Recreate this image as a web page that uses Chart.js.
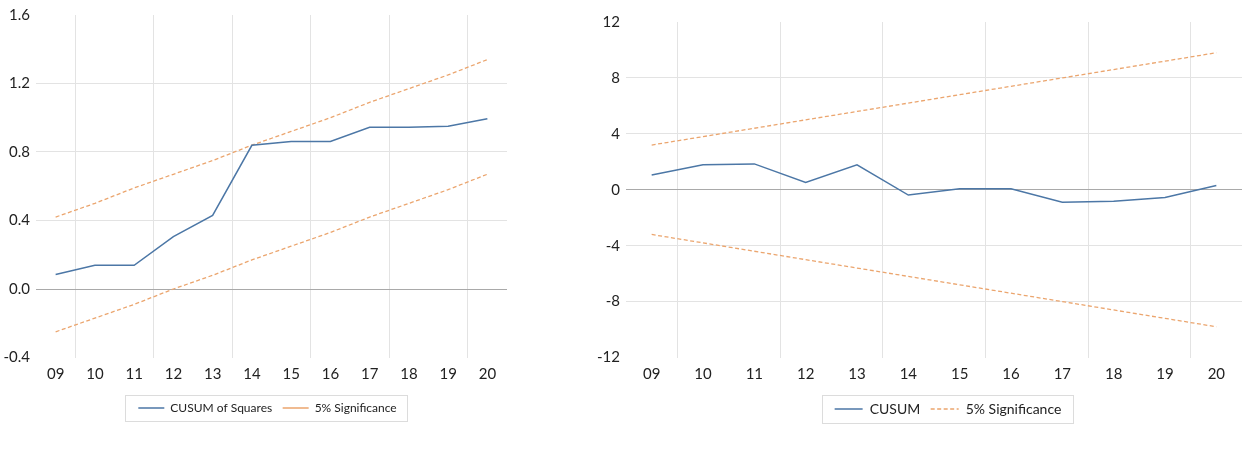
<!DOCTYPE html>
<html>
<head>
<meta charset="utf-8">
<script src="https://cdn.jsdelivr.net/npm/chart.js@4/dist/chart.umd.min.js"></script>
<style>
    body { margin: 0; background: #fff; width: 1242px; height: 452px; position: relative; overflow: hidden; }
    #wrapLeft { position: absolute; left: 0; top: 0; width: 560px; height: 452px; }
    #wrapRight { position: absolute; left: 580px; top: 0; width: 662px; height: 452px; }
</style>
</head>
<body>
<div id="wrapLeft"><canvas id="chartLeft" width="560" height="452"></canvas></div>
<div id="wrapRight"><canvas id="chartRight" width="662" height="452"></canvas></div>
<script>
const years = ['09', '10', '11', '12', '13', '14', '15', '16', '17', '18', '19', '20'];

// CUSUM of squares and its 5% band
const cusumSq = [0.085, 0.138, 0.138, 0.306, 0.43, 0.839, 0.862, 0.862, 0.944, 0.944, 0.95, 0.994];
const sqUpper = [0.42, 0.50, 0.59, 0.67, 0.75, 0.84, 0.92, 1.00, 1.09, 1.17, 1.25, 1.34];
const sqLower = [-0.25, -0.17, -0.09, 0.00, 0.08, 0.17, 0.25, 0.33, 0.42, 0.50, 0.58, 0.67];
const sqTicks = [-0.4, 0.0, 0.4, 0.8, 1.2, 1.6];

// CUSUM and its 5% band
const cusum = [1.05, 1.78, 1.85, 0.52, 1.78, -0.38, 0.07, 0.07, -0.9, -0.82, -0.55, 0.3];
const cusumUpper = [3.2, 3.8, 4.4, 5.0, 5.6, 6.2, 6.8, 7.4, 8.0, 8.6, 9.2, 9.8];
const cusumLower = [-3.2, -3.8, -4.4, -5.0, -5.6, -6.2, -6.8, -7.4, -8.0, -8.6, -9.2, -9.8];
const cusumTicks = [-12, -8, -4, 0, 4, 8, 12];

const blue = '#4c77a6';
const orange = '#eba56e';
const gridColor = '#e3e3e3';
const zeroColor = '#a9a9a9';

// nudges the legend sideways and draws a light frame round its entries
const legendFrame = {
    id: 'legendFrame',
    afterLayout(chart, args, opts) {
        const s = opts.shift || 0;
        chart.legend.left += s;
        chart.legend.right += s;
    },
    afterDraw(chart) {
        const boxes = chart.legend.legendHitBoxes;
        if (!boxes || !boxes.length) return;
        const left = Math.min(...boxes.map(b => b.left)) - 13;
        const right = Math.max(...boxes.map(b => b.left + b.width)) + 11;
        const top = boxes[0].top - 7;
        const bottom = boxes[0].top + boxes[0].height + 7;
        const ctx = chart.ctx;
        ctx.save();
        ctx.strokeStyle = '#dcdcdc';
        ctx.lineWidth = 1;
        ctx.strokeRect(Math.round(left) + 0.5, Math.round(top) + 0.5, Math.round(right - left), Math.round(bottom - top));
        ctx.restore();
    }
};

function makeConfig(mainLabel, mainData, upper, lower, ticks, decimals, axisWidth, padding, legendOpts) {
    const lo = ticks[0], hi = ticks[ticks.length - 1];
    return {
        type: 'line',
        data: {
            labels: years,
            datasets: [
                {
                    label: mainLabel,
                    data: mainData,
                    borderColor: blue,
                    backgroundColor: 'transparent',
                    borderWidth: 1.5,
                    pointRadius: 0,
                    tension: 0,
                },
                {
                    label: '5% Significance',
                    data: upper,
                    borderColor: orange,
                    backgroundColor: 'transparent',
                    borderWidth: 1.3,
                    borderDash: [4, 2.5],
                    pointRadius: 0,
                    tension: 0,
                },
                {
                    label: '5% Significance',
                    data: lower,
                    borderColor: orange,
                    backgroundColor: 'transparent',
                    borderWidth: 1.3,
                    borderDash: [4, 2.5],
                    pointRadius: 0,
                    tension: 0,
                }
            ]
        },
        options: {
            responsive: false,
            animation: false,
            layout: { padding: padding },
            scales: {
                x: {
                    offset: true,
                    border: { display: false },
                    grid: {
                        offset: true,
                        drawTicks: false,
                        // a light line every second year, between the points
                        color: ctx => (ctx.index % 2 === 1 ? gridColor : 'transparent'),
                    },
                    ticks: {
                        color: '#222',
                        padding: 8,
                        maxRotation: 0,
                        autoSkip: false,
                        font: { family: 'Lato', size: 15 },
                    },
                },
                y: {
                    min: lo,
                    max: hi,
                    border: { display: false },
                    afterFit: scale => { scale.width = axisWidth; },
                    grid: {
                        drawTicks: false,
                        color: ctx => {
                            const v = ctx.tick ? ctx.tick.value : null;
                            if (v === lo || v === hi) return 'transparent';
                            return v === 0 ? zeroColor : gridColor;
                        },
                    },
                    ticks: {
                        stepSize: ticks[1] - ticks[0],
                        color: '#222',
                        padding: 6,
                        font: { family: 'Lato', size: 15 },
                        callback: v => Number(v).toFixed(decimals),
                    },
                },
            },
            plugins: {
                legend: {
                    position: 'bottom',
                    labels: {
                        boxWidth: legendOpts.boxWidth,
                        boxHeight: 0,
                        padding: 10.5,
                        color: '#222',
                        font: { family: 'Lato', size: legendOpts.size },
                        filter: item => item.datasetIndex !== 2,
                    },
                },
                legendFrame: { shift: legendOpts.shift },
                tooltip: { enabled: false },
            },
        },
        plugins: [legendFrame],
    };
}

const chartLeft = new Chart(
    document.getElementById('chartLeft'),
    makeConfig('CUSUM of Squares', cusumSq, sqUpper, sqLower, sqTicks, 1, 36,
        { top: 14, right: 53, bottom: 28, left: 0 },
        { shift: 14, size: 12, boxWidth: 26 })
);

const chartRight = new Chart(
    document.getElementById('chartRight'),
    makeConfig('CUSUM', cusum, cusumUpper, cusumLower, cusumTicks, 0, 46,
        { top: 22, right: 0, bottom: 26, left: 0 },
        { shift: 37, size: 14, boxWidth: 28 })
);
</script>
</body>
</html>
